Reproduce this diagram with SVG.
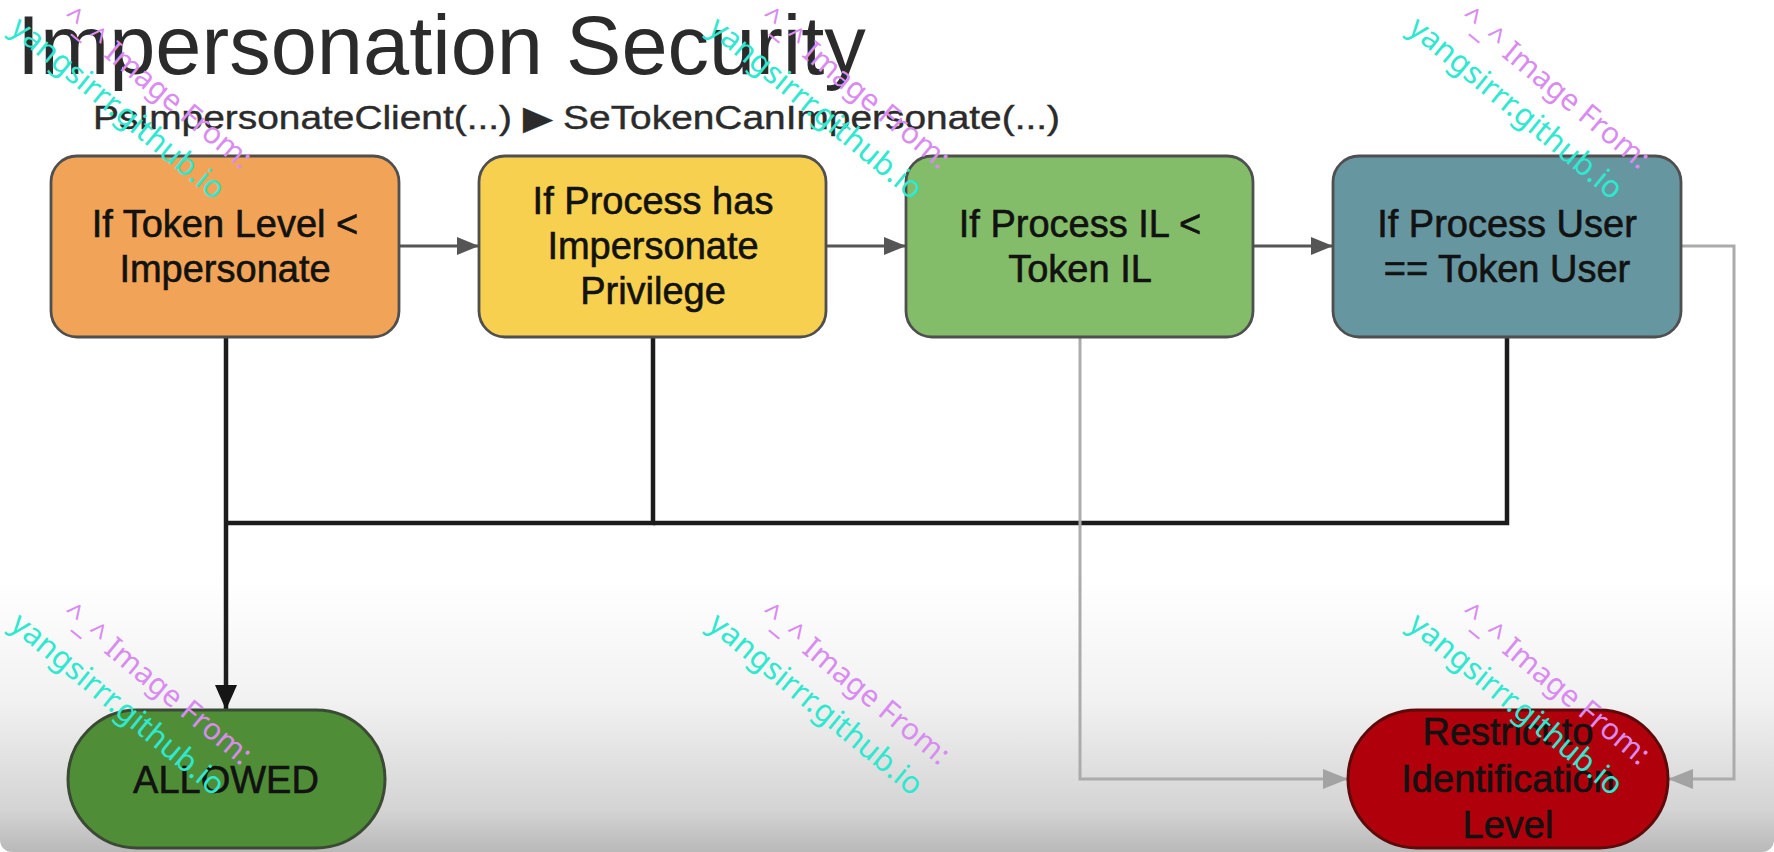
<svg xmlns="http://www.w3.org/2000/svg" width="1774" height="852" viewBox="0 0 1774 852">
  <defs>
    <linearGradient id="bg" x1="0" y1="0" x2="0" y2="852" gradientUnits="userSpaceOnUse">
      <stop offset="0" stop-color="#ffffff"/>
      <stop offset="0.68" stop-color="#ffffff"/>
      <stop offset="0.82" stop-color="#f2f2f2"/>
      <stop offset="0.95" stop-color="#d4d4d4"/>
      <stop offset="1" stop-color="#b9b9b9"/>
    </linearGradient>
    <marker id="arrowDark" markerUnits="userSpaceOnUse" markerWidth="24" markerHeight="20" refX="22" refY="9" orient="auto">
      <path d="M0,0 L22,9 L0,18 Z" fill="#555555"/>
    </marker>
    <marker id="arrowBlack" markerUnits="userSpaceOnUse" markerWidth="26" markerHeight="24" refX="25" refY="11" orient="auto">
      <path d="M0,0 L25,11 L0,22 Z" fill="#151515"/>
    </marker>
    <marker id="arrowGray" markerUnits="userSpaceOnUse" markerWidth="26" markerHeight="22" refX="25" refY="10" orient="auto">
      <path d="M0,0 L25,10 L0,20 Z" fill="#a3a3a3"/>
    </marker>
  </defs>
  <style>
    .box { stroke: #4f4f4f; stroke-width: 2.8; }
    .pill { stroke-width: 3; }
    .lbl { font-family: "Liberation Sans", Arial, Helvetica, sans-serif; font-size: 38px; fill: #121212; stroke: #121212; stroke-width: 0.6; text-anchor: middle; }
    .title { font-family: "Liberation Sans", Arial, Helvetica, sans-serif; fill: #2b2b2b; }
    .dark { fill: none; stroke: #555555; stroke-width: 3; }
    .black { fill: none; stroke: #1c1c1c; stroke-width: 4.5; }
    .gray { fill: none; stroke: #ababab; stroke-width: 3; }
    .wm { font-family: "Noto Sans", "Open Sans", sans-serif; font-size: 31px; }
    .wmc { fill: #2ee8d0; }
    .wmv { fill: #d98cf0; font-size: 30px; }
  </style>

  <rect x="0" y="0" width="1774" height="852" fill="#ffffff"/>
  <rect x="0" y="-20" width="1774" height="872" rx="12" fill="url(#bg)"/>

  <g id="title">
    <text class="title" x="17" y="74" font-size="83">Impersonation Security</text>
    <text class="title" x="93" y="129" font-size="33" textLength="967" lengthAdjust="spacingAndGlyphs" stroke="#2b2b2b" stroke-width="0.4">PsImpersonateClient(...) ▶ SeTokenCanImpersonate(...)</text>
  </g>

  <g id="connectors">
    <line class="dark" x1="399" y1="246" x2="479" y2="246" marker-end="url(#arrowDark)"/>
    <line class="dark" x1="826" y1="246" x2="906" y2="246" marker-end="url(#arrowDark)"/>
    <line class="dark" x1="1253" y1="246" x2="1333" y2="246" marker-end="url(#arrowDark)"/>
    <path class="black" d="M653,337 V523 H226"/>
    <path class="black" d="M1507,337 V523 H653"/>
    <path class="black" d="M226,337 V710" marker-end="url(#arrowBlack)"/>
    <path class="gray" d="M1080,337 V779 H1348" marker-end="url(#arrowGray)"/>
    <path class="gray" d="M1681,246 H1734 V779 H1668" marker-end="url(#arrowGray)"/>
  </g>

  <g id="node-token-level">
    <rect class="box" x="51" y="156" width="348" height="181" rx="26" fill="#f1a457"/>
    <text class="lbl" x="225" y="237">If Token Level &lt;</text>
    <text class="lbl" x="225" y="282">Impersonate</text>
  </g>

  <g id="node-privilege">
    <rect class="box" x="479" y="156" width="347" height="181" rx="26" fill="#f8d04f"/>
    <text class="lbl" x="653" y="214">If Process has</text>
    <text class="lbl" x="653" y="259">Impersonate</text>
    <text class="lbl" x="653" y="304">Privilege</text>
  </g>

  <g id="node-il">
    <rect class="box" x="906" y="156" width="347" height="181" rx="26" fill="#84bd69"/>
    <text class="lbl" x="1080" y="237">If Process IL &lt;</text>
    <text class="lbl" x="1080" y="282">Token IL</text>
  </g>

  <g id="node-user">
    <rect class="box" x="1333" y="156" width="348" height="181" rx="26" fill="#6696a0"/>
    <text class="lbl" x="1507" y="237">If Process User</text>
    <text class="lbl" x="1507" y="282">== Token User</text>
  </g>

  <g id="node-allowed">
    <rect class="pill" x="68" y="710" width="317" height="138" rx="69" fill="#4f8e37" stroke="#3a4a34"/>
    <text class="lbl" x="226" y="793" font-size="38" fill="#0e170b" stroke="#0e170b" stroke-width="1">ALLOWED</text>
  </g>

  <g id="node-restrict">
    <rect class="pill" x="1348" y="710" width="320" height="138" rx="69" fill="#b0000b" stroke="#5e0a0a"/>
    <text class="lbl" x="1508" y="745" fill="#2a0004" stroke="#2a0004">Restrict to</text>
    <text class="lbl" x="1508" y="792" fill="#2a0004" stroke="#2a0004">Identification</text>
    <text class="lbl" x="1508" y="838" fill="#2a0004" stroke="#2a0004">Level</text>
  </g>

  <g id="watermarks">
    <g transform="translate(0,2)">
      <text class="wm wmv" transform="translate(60,18.6) rotate(39.5)">^_^ Image From:</text>
      <text class="wm wmc" transform="translate(8.5,29.3) rotate(39.5)">yangsirrr.github.io</text>
    </g>
    <g transform="translate(698,2)">
      <text class="wm wmv" transform="translate(60,18.6) rotate(39.5)">^_^ Image From:</text>
      <text class="wm wmc" transform="translate(8.5,29.3) rotate(39.5)">yangsirrr.github.io</text>
    </g>
    <g transform="translate(1398,2)">
      <text class="wm wmv" transform="translate(60,18.6) rotate(39.5)">^_^ Image From:</text>
      <text class="wm wmc" transform="translate(8.5,29.3) rotate(39.5)">yangsirrr.github.io</text>
    </g>
    <g transform="translate(0,598)">
      <text class="wm wmv" transform="translate(60,18.6) rotate(39.5)">^_^ Image From:</text>
      <text class="wm wmc" transform="translate(8.5,29.3) rotate(39.5)">yangsirrr.github.io</text>
    </g>
    <g transform="translate(698,598)">
      <text class="wm wmv" transform="translate(60,18.6) rotate(39.5)">^_^ Image From:</text>
      <text class="wm wmc" transform="translate(8.5,29.3) rotate(39.5)">yangsirrr.github.io</text>
    </g>
    <g transform="translate(1398,598)">
      <text class="wm wmv" transform="translate(60,18.6) rotate(39.5)">^_^ Image From:</text>
      <text class="wm wmc" transform="translate(8.5,29.3) rotate(39.5)">yangsirrr.github.io</text>
    </g>
  </g>
</svg>
